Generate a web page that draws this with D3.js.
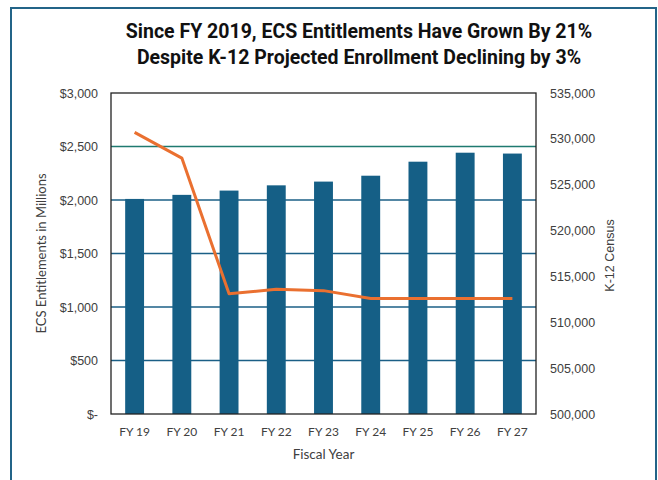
<!DOCTYPE html>
<html>
<head>
<meta charset="utf-8">
<script src="https://cdn.jsdelivr.net/npm/d3@7"></script>
<style>
  html, body { margin: 0; padding: 0; background: #fff; }
  svg { display: block; }
</style>
</head>
<body>
<svg id="chart" width="658" height="480"></svg>
<script>
// Fiscal years shown on the x axis
const years = ["FY 19", "FY 20", "FY 21", "FY 22", "FY 23", "FY 24", "FY 25", "FY 26", "FY 27"];
// ECS entitlements, $ millions (bars, left axis)
const entitlements = [2010, 2048, 2088, 2137, 2172, 2227, 2358, 2442, 2434];
// K-12 census enrollment (line, right axis)
const census = [530700, 527900, 513100, 513600, 513450, 512600, 512600, 512600, 512600];
// Axis tick values
const leftTicks = [0, 500, 1000, 1500, 2000, 2500, 3000];
const rightTicks = [500000, 505000, 510000, 515000, 520000, 525000, 530000, 535000];

const titleLines = [
  "Since FY 2019, ECS Entitlements Have Grown By 21%",
  "Despite K-12 Projected Enrollment Declining by 3%"
];

const svg = d3.select("#chart");
const W = 658, H = 480;
const plot = { left: 111, right: 536, top: 93, bottom: 414 };

const barColor = "#155F86";
const lineColor = "#EA7030";
const gridColor = "#1B5F86";
const textColor = "#404040";

svg.append("rect").attr("width", W).attr("height", H).attr("fill", "#fff");

// outer panel border
svg.append("rect")
  .attr("x", 11).attr("y", 8)
  .attr("width", 645).attr("height", 490)
  .attr("fill", "none")
  .attr("stroke", "#236488")
  .attr("stroke-width", 2);

// title
svg.append("g").selectAll("text")
  .data(titleLines)
  .join("text")
  .attr("x", 359)
  .attr("y", (d, i) => 38 + i * 26)
  .attr("text-anchor", "middle")
  .attr("font-family", "Roboto, 'Liberation Sans', sans-serif")
  .attr("font-weight", "bold")
  .attr("font-size", 19.5)
  .attr("fill", "#111")
  .text(d => d);

const x = d3.scaleBand().domain(years).range([plot.left, plot.right]).paddingInner(0.6).paddingOuter(0.3);
const yL = d3.scaleLinear().domain([0, 3000]).range([plot.bottom, plot.top]);
const yR = d3.scaleLinear().domain([500000, 535000]).range([plot.bottom, plot.top]);

// gridlines
svg.append("g").selectAll("line")
  .data(leftTicks.filter(t => t > 0 && t < 3000))
  .join("line")
  .attr("x1", plot.left).attr("x2", plot.right)
  .attr("y1", d => yL(d)).attr("y2", d => yL(d))
  .attr("stroke", d => d === 2500 ? "#1F7A70" : gridColor)
  .attr("stroke-width", 1.3);

// bars
svg.append("g").selectAll("rect")
  .data(years)
  .join("rect")
  .attr("x", d => x(d))
  .attr("width", x.bandwidth())
  .attr("y", (d, i) => yL(entitlements[i]))
  .attr("height", (d, i) => yL(0) - yL(entitlements[i]))
  .attr("fill", barColor);

// plot frame
svg.append("rect")
  .attr("x", plot.left).attr("y", plot.top)
  .attr("width", plot.right - plot.left).attr("height", plot.bottom - plot.top)
  .attr("fill", "none")
  .attr("stroke", "#222")
  .attr("stroke-width", 1.3);

// census line
const line = d3.line()
  .x((d, i) => x(years[i]) + x.bandwidth() / 2)
  .y(d => yR(d));
svg.append("path")
  .datum(census)
  .attr("d", line)
  .attr("fill", "none")
  .attr("stroke", lineColor)
  .attr("stroke-width", 3)
  .attr("stroke-linejoin", "round");

// left axis
const fmtL = d => d === 0 ? "$-" : "$" + d3.format(",")(d);
const axL = svg.append("g")
  .attr("transform", `translate(${plot.left - 13},0)`)
  .call(d3.axisLeft(yL).tickValues(leftTicks).tickFormat(fmtL).tickSize(0).tickPadding(0));
axL.select(".domain").remove();
axL.selectAll("text")
  .attr("font-family", "'Liberation Sans', Arial, sans-serif")
  .attr("font-size", 12.5)
  .attr("fill", textColor);

// right axis
const axR = svg.append("g")
  .attr("transform", `translate(${plot.right + 14},0)`)
  .call(d3.axisRight(yR).tickValues(rightTicks).tickFormat(d3.format(",")).tickSize(0).tickPadding(0));
axR.select(".domain").remove();
axR.selectAll("text")
  .attr("font-family", "'Liberation Sans', Arial, sans-serif")
  .attr("font-size", 12.5)
  .attr("fill", textColor);

// bottom axis
const axB = svg.append("g")
  .attr("transform", `translate(0,${plot.bottom + 13})`)
  .call(d3.axisBottom(x).tickSize(0).tickPadding(0));
axB.select(".domain").remove();
axB.selectAll("text")
  .attr("dy", "0.71em")
  .attr("font-family", "Lato, 'Open Sans', sans-serif")
  .attr("font-size", 12)
  .attr("fill", textColor);

// axis titles
const axisTitleFont = "Lato, 'Open Sans', sans-serif";
svg.append("text")
  .attr("transform", `translate(46,${(plot.top + plot.bottom) / 2}) rotate(-90)`)
  .attr("text-anchor", "middle")
  .attr("font-family", axisTitleFont)
  .attr("font-size", 13)
  .attr("fill", textColor)
  .text("ECS Entitlements in Millions");

svg.append("text")
  .attr("transform", `translate(614,${(plot.top + plot.bottom) / 2 + 2}) rotate(-90)`)
  .attr("text-anchor", "middle")
  .attr("font-family", "'Liberation Sans', Arial, sans-serif")
  .attr("font-size", 12.5)
  .attr("fill", textColor)
  .text("K-12 Census");

svg.append("text")
  .attr("x", (plot.left + plot.right) / 2)
  .attr("y", 459)
  .attr("text-anchor", "middle")
  .attr("font-family", axisTitleFont)
  .attr("font-size", 13.5)
  .attr("fill", textColor)
  .text("Fiscal Year");
</script>
</body>
</html>
